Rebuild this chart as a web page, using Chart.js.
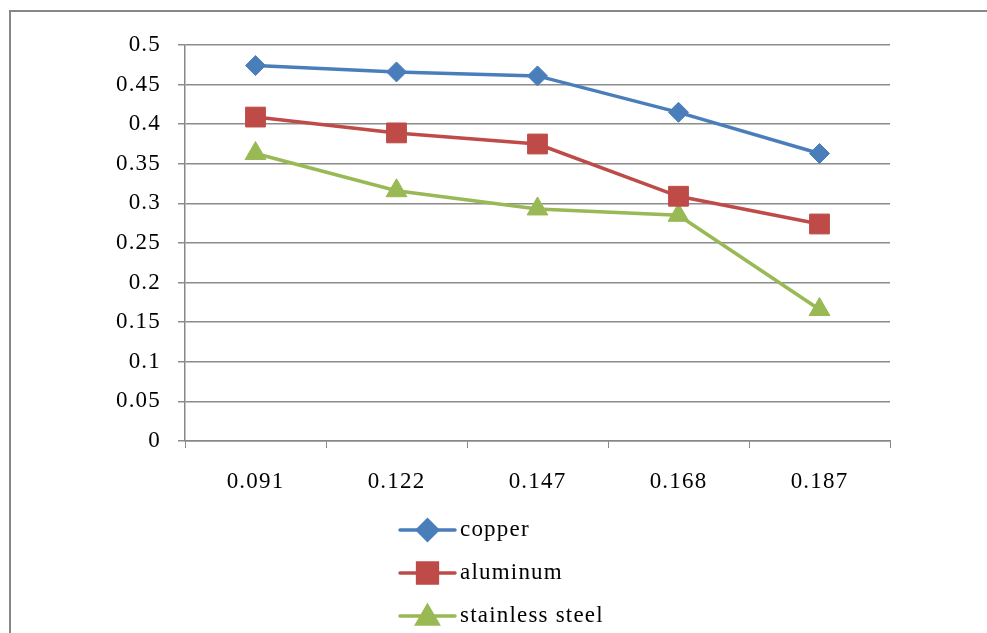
<!DOCTYPE html>
<html lang="en">
<head>
    <meta charset="UTF-8">
    <title>copper / aluminum / stainless steel</title>
    <script src="https://cdn.jsdelivr.net/npm/chart.js"></script>
    <style>
        html, body {
            margin: 0;
            padding: 0;
            background: #fff;
            overflow: hidden;
        }
        #box {
            position: relative;
            width: 987px;
            height: 633px;
        }
    </style>
</head>
<body>
    <div id="box">
        <canvas id="chart"></canvas>
    </div>

    <script>
        // data
        const categories = ['0.091', '0.122', '0.147', '0.168', '0.187'];
        const copper = [0.474, 0.466, 0.461, 0.415, 0.363];
        const aluminum = [0.409, 0.389, 0.375, 0.309, 0.274];
        const stainless = [0.363, 0.316, 0.293, 0.285, 0.166];
        const seriesNames = ['copper', 'aluminum', 'stainless steel'];

        const serif = "'Liberation Serif', 'Times New Roman', serif";
        const spacing = '1.2px';

        // Excel text is a bit wider than Liberation Serif, so space the letters a little
        const spacingPlugin = {
            id: 'spacing',
            beforeInit(chart) { chart.ctx.letterSpacing = spacing; },
            beforeUpdate(chart) { chart.ctx.letterSpacing = spacing; },
            beforeDraw(chart) { chart.ctx.letterSpacing = spacing; }
        };

        // grey frame round the chart (only top and left are in view)
        const framePlugin = {
            id: 'frame',
            beforeDraw(chart) {
                const ctx = chart.ctx;
                ctx.save();
                ctx.strokeStyle = '#878787';
                ctx.lineWidth = 2;
                ctx.beginPath();
                ctx.moveTo(10, chart.height + 5);
                ctx.lineTo(10, 11);
                ctx.lineTo(chart.width + 5, 11);
                ctx.stroke();
                ctx.restore();
            }
        };

        // vertical legend under the axis, like the Excel one
        const legendPlugin = {
            id: 'stackLegend',
            afterDraw(chart) {
                const ctx = chart.ctx;
                const x0 = 400, x1 = 455;
                const rows = [530, 573, 616];
                ctx.save();
                chart.data.datasets.forEach((ds, i) => {
                    const y = rows[i];
                    ctx.strokeStyle = ds.borderColor;
                    ctx.lineWidth = 3.5;
                    ctx.lineCap = 'round';
                    ctx.beginPath();
                    ctx.moveTo(x0, y);
                    ctx.lineTo(x1, y);
                    ctx.stroke();
                    ctx.fillStyle = ds.pointBackgroundColor;
                    ctx.strokeStyle = ds.pointBorderColor;
                    Chart.helpers.drawPoint(ctx, {
                        pointStyle: ds.pointStyle,
                        radius: ds.pointRadius,
                        rotation: 0,
                        borderWidth: 1
                    }, (x0 + x1) / 2, ds.pointStyle === 'triangle' ? y + 2 : y);
                    ctx.fillStyle = '#000';
                    ctx.font = '23px ' + serif;
                    ctx.letterSpacing = spacing;
                    ctx.textBaseline = 'middle';
                    ctx.textAlign = 'left';
                    ctx.fillText(ds.label, 460, y);
                });
                ctx.restore();
            }
        };

        function line(label, data, color, style, radius) {
            return {
                label: label,
                data: data,
                borderColor: color,
                backgroundColor: color,
                pointBackgroundColor: color,
                pointBorderColor: color,
                pointStyle: style,
                pointRadius: radius,
                pointHoverRadius: radius,
                pointBorderWidth: 1,
                borderWidth: 3.5,
                tension: 0,
                fill: false
            };
        }

        const ctx = document.getElementById('chart').getContext('2d');
        new Chart(ctx, {
            type: 'line',
            data: {
                labels: categories,
                datasets: [
                    line(seriesNames[0], copper, '#4a7ebb', 'rectRot', 10),
                    line(seriesNames[1], aluminum, '#be4b48', 'rect', 14),
                    line(seriesNames[2], stainless, '#98b954', 'triangle', 12)
                ]
            },
            options: {
                responsive: true,
                maintainAspectRatio: false,
                animation: false,
                layout: {
                    padding: { left: 0, right: 97, top: 45, bottom: 122 }
                },
                plugins: {
                    legend: { display: false },
                    tooltip: { enabled: false }
                },
                scales: {
                    x: {
                        offset: true,
                        afterFit(scale) { scale.height = 70; },
                        grid: {
                            offset: true,
                            drawOnChartArea: false,
                            drawTicks: true,
                            tickLength: 7,
                            color: '#878787'
                        },
                        border: { color: '#878787', width: 1.5 },
                        ticks: {
                            color: '#000',
                            padding: 20,
                            font: { family: serif, size: 23 }
                        }
                    },
                    y: {
                        min: 0,
                        max: 0.5,
                        afterFit(scale) { scale.width = 185; },
                        grid: {
                            color: '#8c8c8c',
                            lineWidth: 1.5,
                            tickLength: 7
                        },
                        border: { color: '#878787', width: 1.5 },
                        ticks: {
                            stepSize: 0.05,
                            color: '#000',
                            padding: 17,
                            font: { family: serif, size: 23 },
                            callback: v => String(Number(v.toFixed(2)))
                        }
                    }
                }
            },
            plugins: [spacingPlugin, framePlugin, legendPlugin]
        });
    </script>
</body>
</html>
